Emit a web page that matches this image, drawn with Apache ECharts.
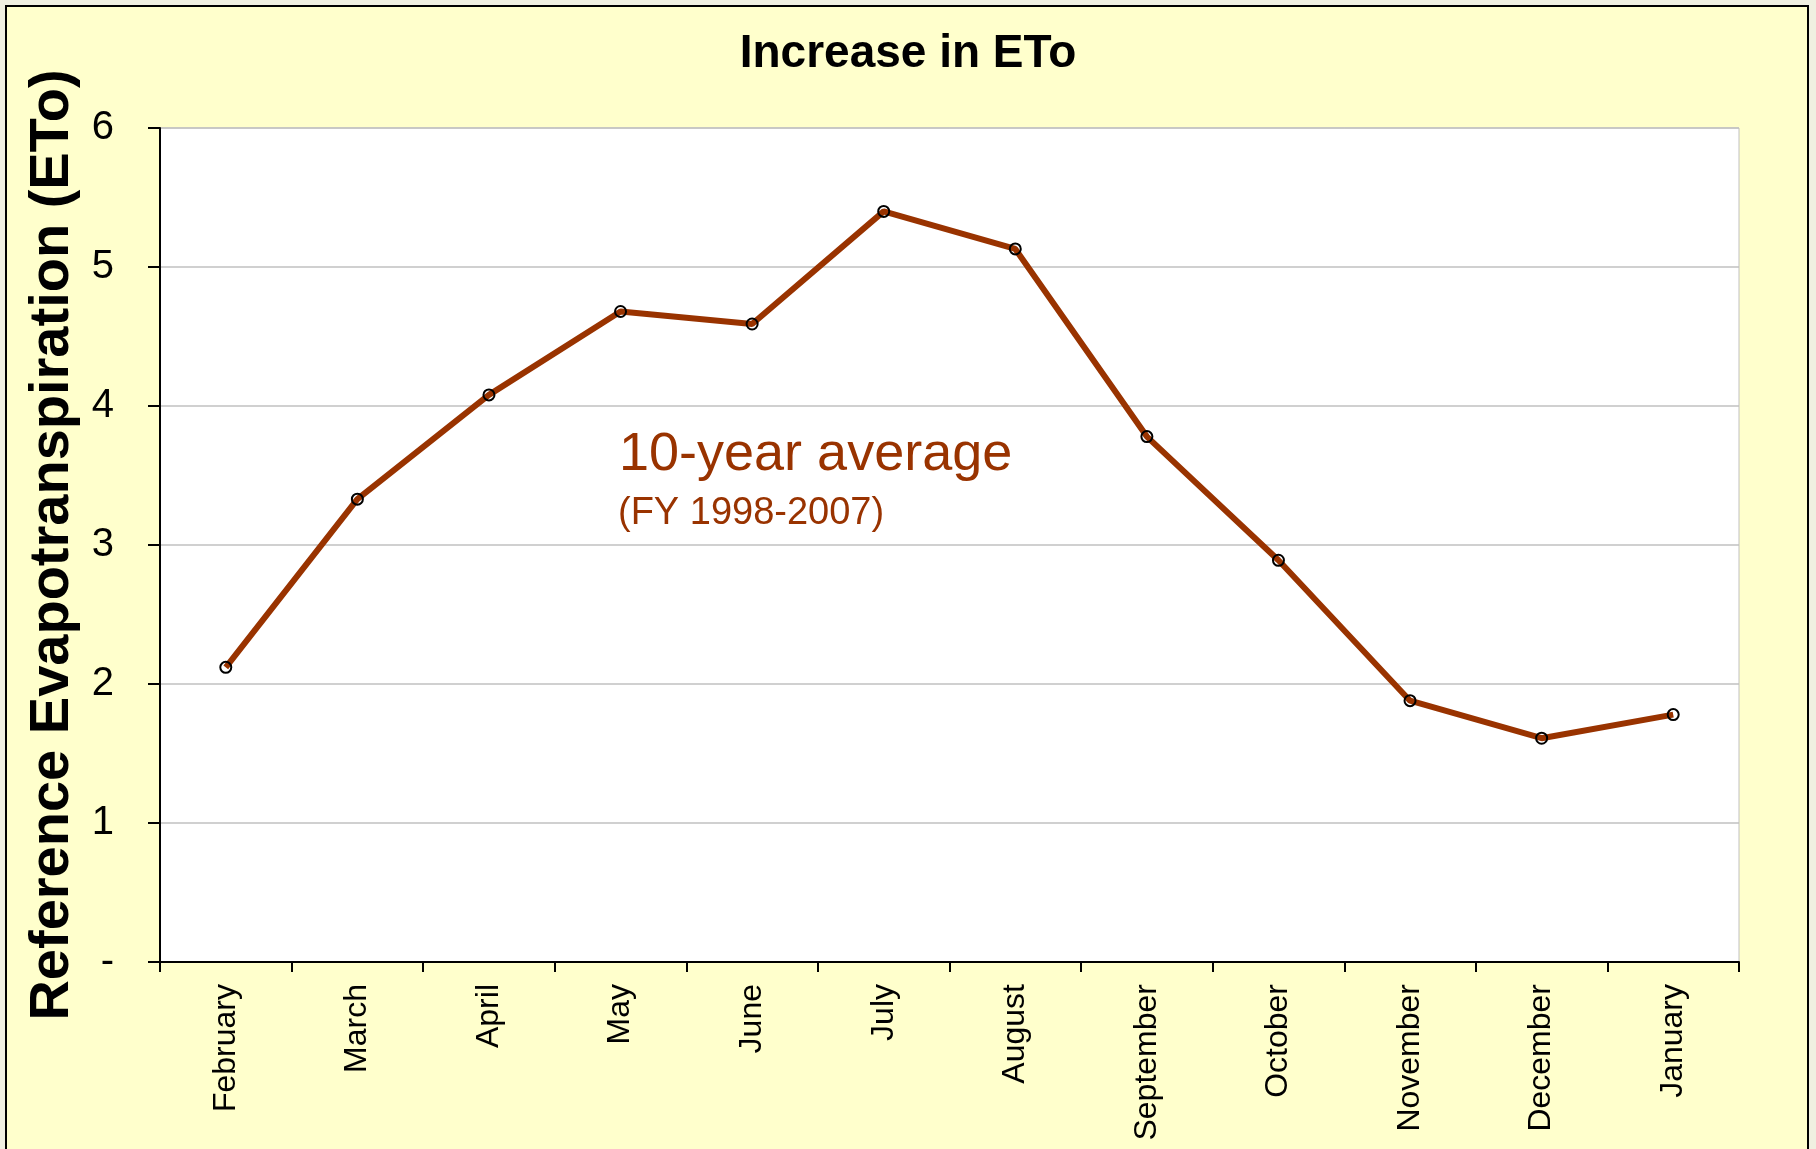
<!DOCTYPE html>
<html>
<head>
<meta charset="utf-8">
<title>Increase in ETo</title>
<script src="https://cdn.jsdelivr.net/npm/echarts@6/dist/echarts.min.js"></script>
<style>
  html, body { margin: 0; padding: 0; background: #f0f0e1; }
  #chart { width: 1816px; height: 1149px; }
</style>
</head>
<body>
<div id="chart"></div>
<script>
// months of the fiscal year, Feb -> Jan
const months = ['February', 'March', 'April', 'May', 'June', 'July',
  'August', 'September', 'October', 'November', 'December', 'January']
// 10-year average ETo (FY 1998-2007)
const etoAverage = [2.12, 3.33, 4.08, 4.68, 4.59, 5.40, 5.13, 3.78, 2.89, 1.88, 1.61, 1.78]
const yTicks = [0, 1, 2, 3, 4, 5, 6]

const font = '"Liberation Sans", Arial, sans-serif'
const brown = '#993300'

const chart = echarts.init(document.getElementById('chart'))
chart.setOption({
  backgroundColor: '#f0f0e1',
  animation: false,
  textStyle: { fontFamily: font },
  title: {
    text: 'Increase in ETo',
    left: 'center',
    top: 31,
    padding: 0,
    textStyle: { fontSize: 46, fontWeight: 'bold', color: '#000', fontFamily: font }
  },
  graphic: [
    {
      // outer chart frame
      type: 'rect',
      z: -10,
      silent: true,
      shape: { x: 6, y: 6, width: 1802, height: 1200 },
      style: { fill: '#ffffcc', stroke: '#000', lineWidth: 2 }
    },
    {
      type: 'text',
      left: 619,
      top: 428,
      style: { text: '10-year average', fill: brown, font: '54px ' + font }
    },
    {
      type: 'text',
      left: 618,
      top: 495,
      style: { text: '(FY 1998-2007)', fill: brown, font: '38px ' + font }
    }
  ],
  grid: {
    left: 160,
    top: 128,
    right: 77,
    bottom: 187,
    show: true,
    backgroundColor: '#ffffff',
    borderColor: '#c0c0c0',
    borderWidth: 1
  },
  xAxis: {
    type: 'category',
    data: months,
    boundaryGap: true,
    axisLine: { lineStyle: { color: '#000', width: 2 } },
    axisTick: { show: true, length: 10, lineStyle: { color: '#000', width: 2 } },
    axisLabel: { rotate: 90, margin: 22, fontSize: 32, color: '#000', fontFamily: font, interval: 0 },
    splitLine: { show: false }
  },
  yAxis: {
    type: 'value',
    min: yTicks[0],
    max: yTicks[yTicks.length - 1],
    interval: 1,
    name: 'Reference Evapotranspiration (ETo)',
    nameLocation: 'middle',
    nameRotate: 90,
    nameGap: 78,
    nameTextStyle: { fontSize: 56, fontWeight: 'bold', color: '#000', fontFamily: font },
    axisLine: { show: true, lineStyle: { color: '#000', width: 2 } },
    axisTick: { show: true, length: 12, lineStyle: { color: '#000', width: 2 } },
    axisLabel: {
      margin: 46,
      fontSize: 40,
      color: '#000',
      fontFamily: font,
      formatter: function (v) { return v === 0 ? '-' : String(v) }
    },
    splitLine: { show: true, lineStyle: { color: '#c0c0c0', width: 1.5 } }
  },
  series: [{
    name: '10-year average',
    type: 'line',
    data: etoAverage,
    symbol: 'circle',
    symbolSize: 11,
    lineStyle: { color: brown, width: 6 },
    itemStyle: { color: 'rgba(0,0,0,0)', borderColor: '#000', borderWidth: 2 },
    emphasis: { disabled: true }
  }]
})
</script>
</body>
</html>
